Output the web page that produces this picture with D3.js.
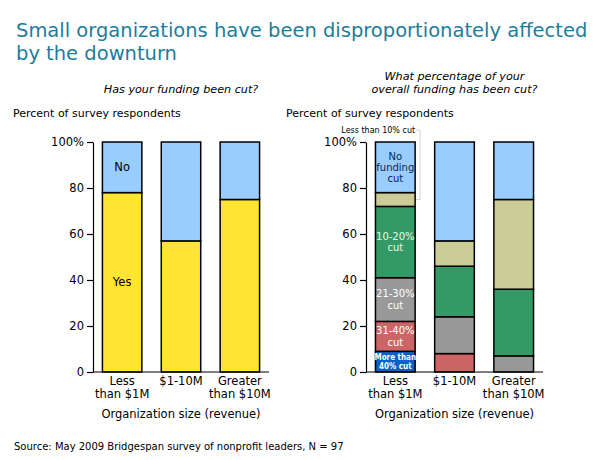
<!DOCTYPE html>
<html>
<head>
<meta charset="utf-8">
<title>Small organizations have been disproportionately affected</title>
<style>
body {
  margin: 0;
  background: #fff;
  font-family: "DejaVu Sans", Verdana, sans-serif;
}
svg {
  display: block;
}
.axis path, .axis line {
  stroke: #000;
  stroke-width: 1.2px;
}
.axis text {
  font-family: "DejaVu Sans", Verdana, sans-serif;
  font-size: 11.5px;
  fill: #000;
}
.bar rect {
  stroke: #000;
  stroke-width: 1.5px;
}
</style>
<script src="https://d3js.org/d3.v7.min.js"></script>
</head>
<body>
<div id="chart"></div>
<script>
// categories
var sizes = ["Less than $1M", "$1-10M", "Greater than $10M"];
var sizeLines = [["Less", "than $1M"], ["$1-10M"], ["Greater", "than $10M"]];
var yTicks = [0, 20, 40, 60, 80, 100];

// left chart: has your funding been cut?
var cutYes = [78, 57, 75];
var cutNo = [22, 43, 25];

// right chart: what percentage has been cut?
var over40 = [9, 0, 0];
var cut31to40 = [13, 8, 0];
var cut21to30 = [19, 16, 7];
var cut10to20 = [31, 22, 29];
var under10 = [6, 11, 39];
var noCut = [22, 43, 25];

var W = 600, H = 460;
var svg = d3.select('#chart').append('svg').attr('width', W).attr('height', H);

// title
var title = svg.append('text').attr('x', 16).attr('y', 37)
  .attr('fill', '#1d7d9c').attr('font-size', 19.5);
title.append('tspan').attr('x', 16).text('Small organizations have been disproportionately affected');
title.append('tspan').attr('x', 16).attr('dy', 23).text('by the downturn');

var y = d3.scaleLinear().domain([0, 100]).range([372, 142]);

function drawChart(opts) {
  var g = svg.append('g');
  var x = d3.scaleBand().domain(sizes).range(opts.range).paddingInner(0.33).paddingOuter(0.16);
  var cx = (opts.range[0] + opts.range[1]) / 2;

  var rows = sizes.map(function(s, i) {
    var r = {size: s};
    opts.series.forEach(function(se) { r[se.key] = se.values[i]; });
    return r;
  });
  var stack = d3.stack().keys(opts.series.map(function(se) { return se.key; }))(rows);

  var layer = g.selectAll('g.bar').data(stack).enter().append('g').attr('class', 'bar')
    .attr('fill', function(d, i) { return opts.series[i].color; });
  layer.selectAll('rect').data(function(d) { return d.filter(function(p) { return p[1] > p[0]; }); })
    .enter().append('rect')
    .attr('x', function(d) { return x(d.data.size); })
    .attr('width', x.bandwidth())
    .attr('y', function(d) { return y(d[1]); })
    .attr('height', function(d) { return y(d[0]) - y(d[1]); });

  // labels inside the first bar
  stack.forEach(function(s, i) {
    var se = opts.series[i];
    if (!se.label) return;
    var p = s[0];
    var cy = y((p[0] + p[1]) / 2);
    var lh = se.lineHeight || se.fontSize + 1.5;
    var t = g.append('text').attr('text-anchor', 'middle')
      .attr('font-size', se.fontSize).attr('fill', se.textColor)
      .attr('font-family', se.family || null)
      .attr('font-weight', se.bold ? 'bold' : null);
    se.label.forEach(function(line, j) {
      t.append('tspan').attr('x', x(sizes[0]) + x.bandwidth() / 2)
        .attr('y', cy + (j - (se.label.length - 1) / 2) * lh)
        .attr('dy', '0.35em').text(line);
    });
  });

  // y axis
  var ya = g.append('g').attr('class', 'axis').attr('transform', 'translate(' + opts.range[0] + ',0)')
    .call(d3.axisLeft(y).tickValues(yTicks).tickSize(6).tickSizeOuter(0).tickPadding(3)
      .tickFormat(function(d) { return d === 100 ? '100%' : d; }));
  ya.selectAll('text').attr('font-size', 12);

  // x axis
  var xa = g.append('g').attr('class', 'axis').attr('transform', 'translate(0,' + y(0) + ')')
    .call(d3.axisBottom(x).tickSize(0).tickSizeOuter(0).tickPadding(4));
  xa.selectAll('.tick text').each(function(d, i) {
    var t = d3.select(this).text(null).attr('dy', null).attr('y', 13);
    sizeLines[i].forEach(function(line, j) {
      t.append('tspan').attr('x', 0).attr('dy', j === 0 ? 0 : 12.5).text(line);
    });
  });
  xa.select('.domain').attr('d', 'M' + opts.range[0] + ',0H' + opts.range[1]);

  g.append('text').attr('x', cx).attr('y', 418).attr('text-anchor', 'middle')
    .attr('font-size', 11.5).text('Organization size (revenue)');

  g.append('text').attr('x', opts.range[0] - 80).attr('y', 117)
    .attr('font-size', 11).text('Percent of survey respondents');

  var q = g.append('text').attr('text-anchor', 'middle').attr('font-size', 11.2)
    .attr('font-style', 'italic');
  opts.question.forEach(function(line, j) {
    q.append('tspan').attr('x', cx).attr('y', 93 - (opts.question.length - 1 - j) * 13).text(line);
  });

  return {x: x, stack: stack};
}

drawChart({
  range: [93, 269],
  question: ['Has your funding been cut?'],
  series: [
    {key: 'yes', values: cutYes, color: '#ffe433', label: ['Yes'], textColor: '#000', fontSize: 11.5},
    {key: 'no', values: cutNo, color: '#99ccff', label: ['No'], textColor: '#000', fontSize: 11.5}
  ]
});

var right = drawChart({
  range: [366, 543],
  question: ['What percentage of your', 'overall funding has been cut?'],
  series: [
    {key: 'over40', values: over40, color: '#0a62c8', label: ['More than', '40% cut'], textColor: '#fff',
      fontSize: 8, lineHeight: 9, family: '"DejaVu Sans Condensed", "DejaVu Sans", sans-serif', bold: true},
    {key: 'c31', values: cut31to40, color: '#cc6666', label: ['31-40%', 'cut'], textColor: '#fff', fontSize: 10, lineHeight: 11.5},
    {key: 'c21', values: cut21to30, color: '#999999', label: ['21-30%', 'cut'], textColor: '#fff', fontSize: 10, lineHeight: 11.5},
    {key: 'c10', values: cut10to20, color: '#339966', label: ['10-20%', 'cut'], textColor: '#e6ffe6', fontSize: 10, lineHeight: 11.5},
    {key: 'u10', values: under10, color: '#cccc99', label: null},
    {key: 'none', values: noCut, color: '#99ccff', label: ['No', 'funding', 'cut'], textColor: '#10254d', fontSize: 10, lineHeight: 11}
  ]
});

// callout for the "less than 10%" slice of the first bar
var seg = right.stack[4][0];
var bx = right.x(sizes[0]) + right.x.bandwidth();
var ly = y((seg[0] + seg[1]) / 2);
svg.append('path')
  .attr('d', 'M' + (bx + 1) + ',' + 130 + 'H' + (bx + 5) + 'V' + ly + 'H' + (bx + 1))
  .attr('fill', 'none').attr('stroke', '#d4d4d4').attr('stroke-width', 1);
svg.append('text').attr('x', bx).attr('y', 130).attr('dy', '0.35em').attr('text-anchor', 'end')
  .attr('font-size', 8).text('Less than 10% cut');

svg.append('text').attr('x', 14).attr('y', 450).attr('font-size', 10)
  .text('Source: May 2009 Bridgespan survey of nonprofit leaders, N = 97');
</script>
</body>
</html>
